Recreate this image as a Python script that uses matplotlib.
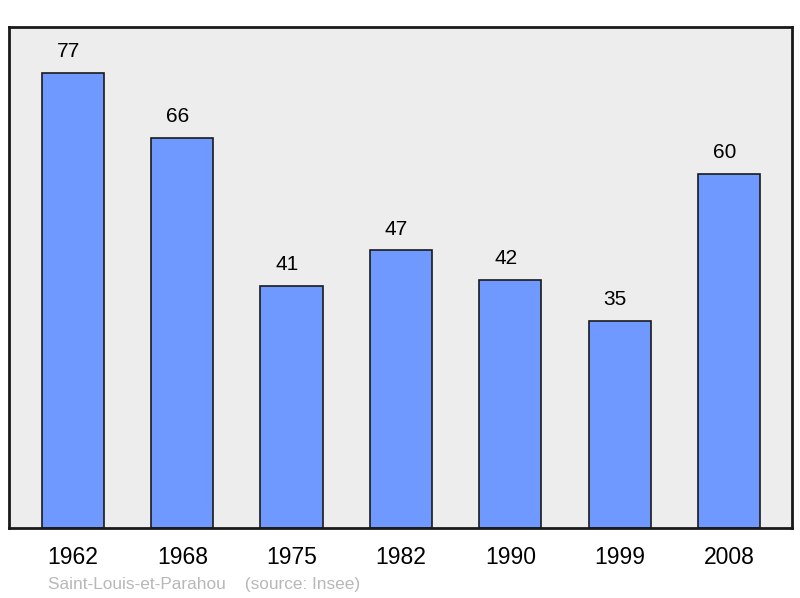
import matplotlib.pyplot as plt

years = ['1962', '1968', '1975', '1982', '1990', '1999', '2008']
population = [77, 66, 41, 47, 42, 35, 60]

plt.rcParams['font.family'] = ['Liberation Sans', 'DejaVu Sans']

W, H = 800, 598
fig = plt.figure(figsize=(W / 100, H / 100), dpi=100)
ax = fig.add_axes([9 / W, 1 - 528 / H, (792 - 9) / W, (528 - 27) / H])
ax.set_facecolor('#ededed')

x = range(len(years))
bars = ax.bar(x, population, width=0.57, color='#7099ff',
              edgecolor='#1a1a1a', linewidth=1.2, zorder=2)
for xi, v in zip(x, population):
    ax.text(xi - 0.04, v + 2.0, str(v), ha='center', va='bottom', fontsize=15)

ax.set_xlim(-0.585, 6.576)
ax.set_ylim(0, 84.8)
ax.set_yticks([])
ax.set_xticks(list(x))
ax.set_xticklabels(years, fontsize=16.5)
ax.tick_params(axis='x', length=0, pad=13)
for s in ax.spines.values():
    s.set_linewidth(2)
    s.set_color('#1a1a1a')

fig.text(48 / W, 1 - 584 / H, 'Saint-Louis-et-Parahou    (source: Insee)',
         fontsize=12.4, color='#b8b8b8', va='center', ha='left')

fig.savefig('out.png', dpi=100)
